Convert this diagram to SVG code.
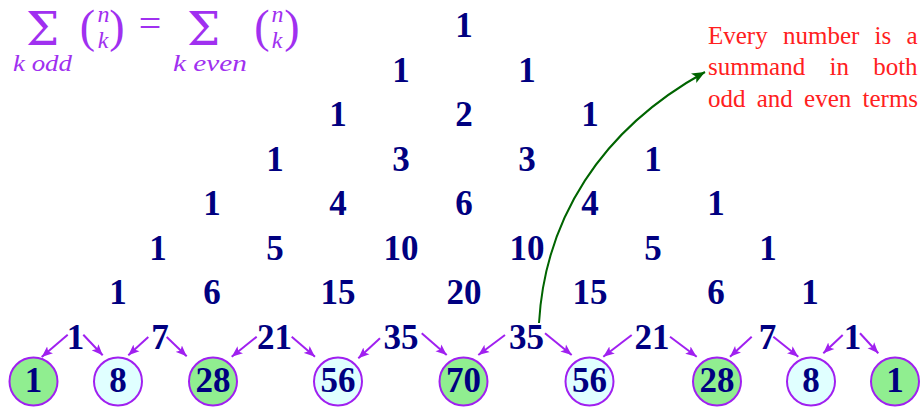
<svg xmlns="http://www.w3.org/2000/svg" width="921" height="408" viewBox="0 0 921 408">
<defs>
<style>
.n{font-family:"Liberation Serif","DejaVu Serif",serif;font-weight:bold;font-size:35px;fill:#000080;text-anchor:middle}
.cg{fill:#90EE90;stroke:#A020F0;stroke-width:2}
.cc{fill:#E0FFFF;stroke:#A020F0;stroke-width:2}
.pa{stroke:#A020F0;stroke-width:2;fill:none;marker-end:url(#ah)}
.f{font-family:"Liberation Serif","DejaVu Serif",serif;fill:#A030F0}
.fi{font-style:italic;font-size:24px;text-anchor:middle}
.par{font-size:46px;text-anchor:middle}
.sig{font-family:"DejaVu Serif","Liberation Serif",serif;font-size:47px;text-anchor:middle}
.red{font-family:"Liberation Serif","DejaVu Serif",serif;font-size:25px;fill:#FF2020}
</style>
<marker id="ah" markerUnits="userSpaceOnUse" markerWidth="12" markerHeight="10" refX="11" refY="5" orient="auto">
<path d="M0,0.5 L11,5 L0,9.5 L2.5,5 z" fill="#A020F0"/>
</marker>
<marker id="gh" markerUnits="userSpaceOnUse" markerWidth="14" markerHeight="12" refX="13" refY="6" orient="auto">
<path d="M0,0.5 L13,6 L0,11.5 L3,6 z" fill="#006400"/>
</marker>
</defs>
<rect width="921" height="408" fill="#ffffff"/>

<g id="formula" class="f">
<text class="sig" x="42.5" y="45">Σ</text>
<text class="fi" x="42.5" y="71" textLength="59" lengthAdjust="spacingAndGlyphs">k odd</text>
<text class="par" x="87.5" y="42">(</text>
<text class="fi" x="103.5" y="21.5">n</text>
<text class="fi" x="103" y="48">k</text>
<text class="par" x="117" y="42">)</text>
<text x="150" y="37" font-size="40" text-anchor="middle">=</text>
<text class="sig" x="203.5" y="45">Σ</text>
<text class="fi" x="210" y="71" textLength="74" lengthAdjust="spacingAndGlyphs">k even</text>
<text class="par" x="262" y="42">(</text>
<text class="fi" x="277.5" y="21.5">n</text>
<text class="fi" x="277" y="48">k</text>
<text class="par" x="292" y="42">)</text>
</g>

<g id="note" class="red">
<text x="708" y="44" word-spacing="9">Every number is a</text>
<text x="708" y="75" word-spacing="18">summand in both</text>
<text x="708" y="106.5" word-spacing="5">odd and even terms</text>
</g>

<g id="row0"><text class="n" x="464" y="37">1</text></g>
<g id="row1"><text class="n" x="401" y="81.5">1</text><text class="n" x="527" y="81.5">1</text></g>
<g id="row2"><text class="n" x="338" y="126">1</text><text class="n" x="464" y="126">2</text><text class="n" x="590" y="126">1</text></g>
<g id="row3"><text class="n" x="275" y="170.5">1</text><text class="n" x="401" y="170.5">3</text><text class="n" x="527" y="170.5">3</text><text class="n" x="653" y="170.5">1</text></g>
<g id="row4"><text class="n" x="212" y="215">1</text><text class="n" x="338" y="215">4</text><text class="n" x="464" y="215">6</text><text class="n" x="590" y="215">4</text><text class="n" x="716" y="215">1</text></g>
<g id="row5"><text class="n" x="158" y="259.5">1</text><text class="n" x="275" y="259.5">5</text><text class="n" x="401" y="259.5">10</text><text class="n" x="527" y="259.5">10</text><text class="n" x="653" y="259.5">5</text><text class="n" x="768" y="259.5">1</text></g>
<g id="row6"><text class="n" x="118" y="304">1</text><text class="n" x="212" y="304">6</text><text class="n" x="338" y="304">15</text><text class="n" x="464" y="304">20</text><text class="n" x="590" y="304">15</text><text class="n" x="716" y="304">6</text><text class="n" x="810" y="304">1</text></g>
<g id="row7"><text class="n" x="75.5" y="348.5">1</text><text class="n" x="160" y="348.5">7</text><text class="n" x="274.5" y="348.5">21</text><text class="n" x="401" y="348.5">35</text><text class="n" x="526.5" y="348.5">35</text><text class="n" x="652" y="348.5">21</text><text class="n" x="767.5" y="348.5">7</text><text class="n" x="852.5" y="348.5">1</text></g>

<g id="c0"><circle class="cg" cx="33.5" cy="381.5" r="24"/><text class="n" x="33.5" y="391.5">1</text></g>
<g id="c1"><circle class="cc" cx="118" cy="381.5" r="24"/><text class="n" x="118" y="391.5">8</text></g>
<g id="c2"><circle class="cg" cx="213" cy="381.5" r="24"/><text class="n" x="213" y="391.5">28</text></g>
<g id="c3"><circle class="cc" cx="338" cy="381.5" r="24"/><text class="n" x="338" y="391.5">56</text></g>
<g id="c4"><circle class="cg" cx="463.5" cy="381.5" r="24"/><text class="n" x="463.5" y="391.5">70</text></g>
<g id="c5"><circle class="cc" cx="589.5" cy="381.5" r="24"/><text class="n" x="589.5" y="391.5">56</text></g>
<g id="c6"><circle class="cg" cx="717" cy="381.5" r="24"/><text class="n" x="717" y="391.5">28</text></g>
<g id="c7"><circle class="cc" cx="811" cy="381.5" r="24"/><text class="n" x="811" y="391.5">8</text></g>
<g id="c8"><circle class="cg" cx="895" cy="381.5" r="24"/><text class="n" x="895" y="391.5">1</text></g>

<g id="connectors">
<line class="pa" x1="67.7" y1="334.7" x2="41.7" y2="357"/>
<line class="pa" x1="83.3" y1="334.7" x2="102.7" y2="355.3"/>
<line class="pa" x1="148.3" y1="337" x2="128.3" y2="355.3"/>
<line class="pa" x1="166.7" y1="337" x2="186.7" y2="356.3"/>
<line class="pa" x1="256.7" y1="336.7" x2="231.7" y2="356.7"/>
<line class="pa" x1="291.7" y1="336.7" x2="315" y2="356.7"/>
<line class="pa" x1="380" y1="338.3" x2="358.3" y2="358.3"/>
<line class="pa" x1="421.7" y1="333.3" x2="446.7" y2="355"/>
<line class="pa" x1="505" y1="335" x2="478.3" y2="355"/>
<line class="pa" x1="545" y1="333.3" x2="571.7" y2="355"/>
<line class="pa" x1="631.7" y1="335" x2="603.3" y2="356.7"/>
<line class="pa" x1="670" y1="336.7" x2="696.7" y2="356.7"/>
<line class="pa" x1="751.7" y1="336.7" x2="730" y2="356.7"/>
<line class="pa" x1="773.3" y1="336.7" x2="798.3" y2="356.7"/>
<line class="pa" x1="842.7" y1="335" x2="823.3" y2="353.3"/>
<line class="pa" x1="860" y1="333.3" x2="878.3" y2="353.3"/>
<path d="M539,323 C545,220 600,130 705,72" fill="none" stroke="#006400" stroke-width="2" marker-end="url(#gh)"/>
</g>
</svg>
